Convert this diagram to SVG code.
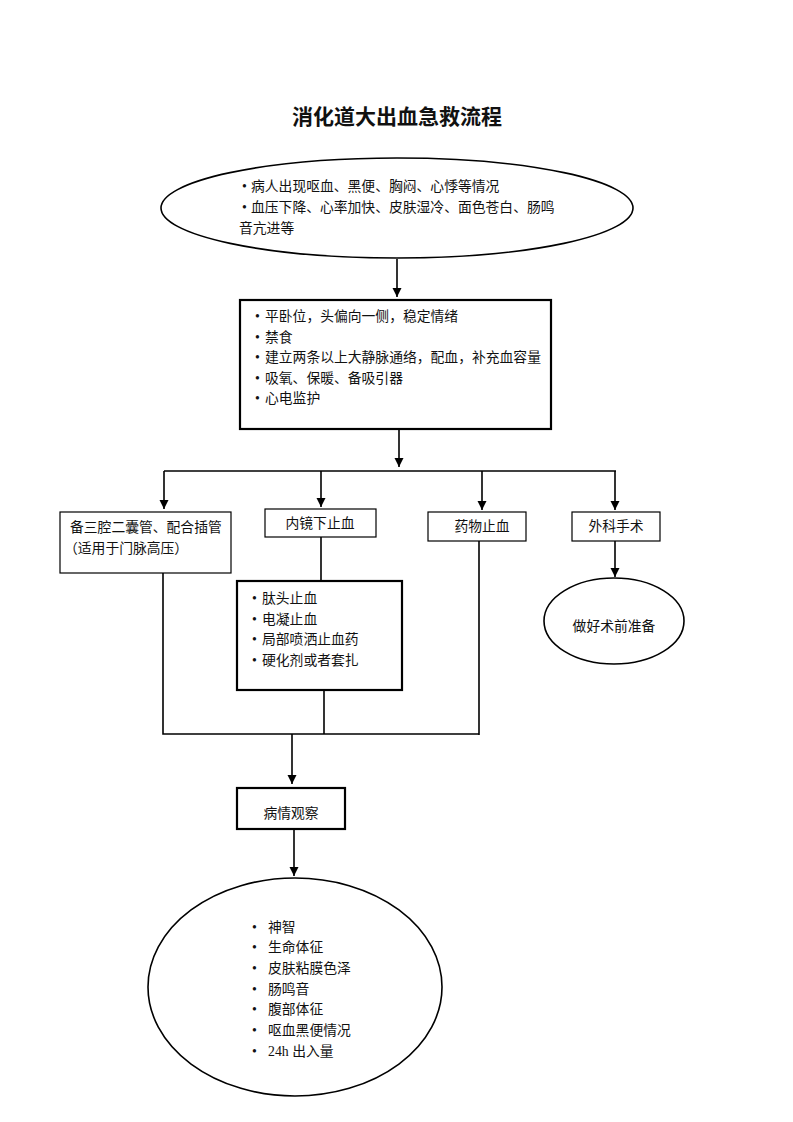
<svg xmlns="http://www.w3.org/2000/svg" width="793" height="1122" viewBox="0 0 793 1122">
<style>
text{font-family:"Liberation Serif","Noto Sans CJK SC",serif;font-size:13.8px;fill:#111}
.title{font-size:21px;font-weight:bold;text-anchor:middle}
.c{text-anchor:middle}
.thin{fill:#fff;stroke:#000;stroke-width:1.2}
.thick{fill:#fff;stroke:#000;stroke-width:2.2}
.ell{fill:#fff;stroke:#000;stroke-width:1.6}
.ln{fill:none;stroke:#000;stroke-width:1.6}
</style>
<defs>
<marker id="ah" markerUnits="userSpaceOnUse" markerWidth="10" markerHeight="10" refX="9" refY="4.5" orient="auto">
<path d="M0,0 L9,4.5 L0,9 Z" fill="#000"/>
</marker>
</defs>
<rect width="793" height="1122" fill="#fff"/>
<text class="title" x="397" y="124">消化道大出血急救流程</text>

<g id="connectors">
<path class="ln" d="M397,259 V297" marker-end="url(#ah)"/>
<path class="ln" d="M399,430 V467" marker-end="url(#ah)"/>
<path class="ln" d="M164,471 H616"/>
<path class="ln" d="M164,471 V509" marker-end="url(#ah)"/>
<path class="ln" d="M321,471 V507" marker-end="url(#ah)"/>
<path class="ln" d="M482,471 V510" marker-end="url(#ah)"/>
<path class="ln" d="M615,471 V510" marker-end="url(#ah)"/>
<path class="ln" d="M615,541 V577" marker-end="url(#ah)"/>
<path class="ln" d="M321,537 V581"/>
<path class="ln" d="M163,573 V734 H479"/>
<path class="ln" d="M324,690 V734"/>
<path class="ln" d="M479,541 V735"/>
<path class="ln" d="M292,734 V784" marker-end="url(#ah)"/>
<path class="ln" d="M294,830 V876" marker-end="url(#ah)"/>
</g>

<g id="n_symptoms">
<ellipse class="ell" cx="397" cy="208" rx="236" ry="50"/>
<text x="242" y="191">•<tspan x="251">病人出现呕血、黑便、胸闷、心悸等情况</tspan></text>
<text x="242" y="212">•<tspan x="251">血压下降、心率加快、皮肤湿冷、面色苍白、肠鸣</tspan></text>
<text x="239" y="233">音亢进等</text>
</g>

<g id="n_first_aid">
<rect class="thick" x="240" y="300" width="311" height="129"/>
<text x="255" y="321">•<tspan x="265">平卧位，头偏向一侧，稳定情绪</tspan></text>
<text x="255" y="342">•<tspan x="265">禁食</tspan></text>
<text x="255" y="362">•<tspan x="265">建立两条以上大静脉通络，配血，补充血容量</tspan></text>
<text x="255" y="383">•<tspan x="265">吸氧、保暖、备吸引器</tspan></text>
<text x="255" y="403">•<tspan x="265">心电监护</tspan></text>
</g>

<g id="n_tube">
<rect class="thin" x="60" y="512" width="171" height="61"/>
<text x="70" y="532">备三腔二囊管、配合插管</text>
<text x="64" y="553">（适用于门脉高压）</text>
</g>

<g id="n_endoscope">
<rect class="thin" x="265" y="509" width="111" height="28"/>
<text class="c" x="320" y="528">内镜下止血</text>
</g>

<g id="n_drug">
<rect class="thin" x="428" y="512" width="98" height="29"/>
<text class="c" x="482" y="531">药物止血</text>
</g>

<g id="n_surgery">
<rect class="thin" x="572" y="512" width="88" height="29"/>
<text class="c" x="616" y="531">外科手术</text>
</g>

<g id="n_preop">
<ellipse class="ell" cx="614" cy="621" rx="70" ry="43"/>
<text class="c" x="614" y="631">做好术前准备</text>
</g>

<g id="n_endo_methods">
<rect class="thick" x="237" y="581" width="165" height="109"/>
<text x="252" y="603">•<tspan x="262">肽头止血</tspan></text>
<text x="252" y="624">•<tspan x="262">电凝止血</tspan></text>
<text x="252" y="644">•<tspan x="262">局部喷洒止血药</tspan></text>
<text x="252" y="665">•<tspan x="262">硬化剂或者套扎</tspan></text>
</g>

<g id="n_observe">
<rect class="thick" x="237" y="788" width="108" height="41"/>
<text class="c" x="291" y="818">病情观察</text>
</g>

<g id="n_observe_items">
<ellipse class="ell" cx="295" cy="987" rx="147" ry="109"/>
<text x="252" y="932">•<tspan x="268">神智</tspan></text>
<text x="252" y="952">•<tspan x="268">生命体征</tspan></text>
<text x="252" y="973">•<tspan x="268">皮肤粘膜色泽</tspan></text>
<text x="252" y="994">•<tspan x="268">肠鸣音</tspan></text>
<text x="252" y="1014">•<tspan x="268">腹部体征</tspan></text>
<text x="252" y="1035">•<tspan x="268">呕血黑便情况</tspan></text>
<text x="252" y="1056">•<tspan x="268">24h 出入量</tspan></text>
</g>
</svg>
